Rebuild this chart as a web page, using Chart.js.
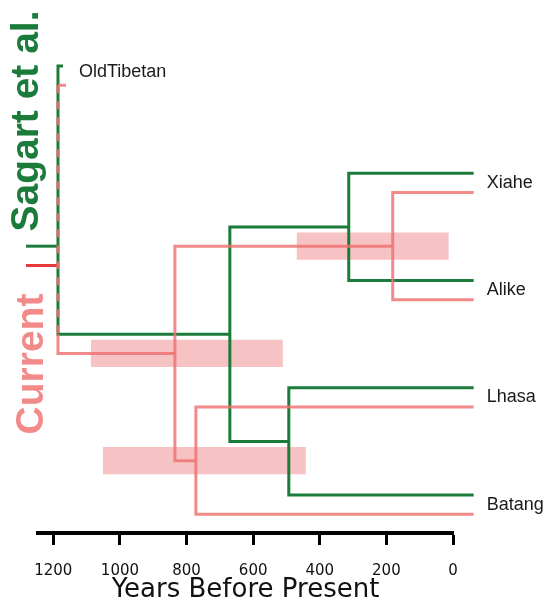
<!DOCTYPE html>
<html><head><meta charset="utf-8">
<script src="https://cdn.jsdelivr.net/npm/chart.js@4/dist/chart.umd.min.js"></script>
<style>html,body{margin:0;padding:0;background:#fff}#wrap{width:548px;height:606px;position:relative}</style>
</head><body><div id="wrap"><canvas id="c"></canvas></div>
<script>
// ---- data (years before present; rows = leaf order top to bottom) ----
const leaves = ['OldTibetan', 'Xiahe', 'Alike', 'Lhasa', 'Batang'];
const leafRows = [0, 1, 2, 3, 4];
const sagartTipYears = [1171, -62, -62, -62, -62];
const currentTipYears = [1162, -62, -62, -62, -62];
// internal nodes: [root, (Xiahe..Batang), (Xiahe,Alike), (Lhasa,Batang)]
const sagartNodeYears = [1186, 670, 313, 493];
const currentNodeYears = [1186, 835, 181, 772];
// 95% intervals of the current tree's nodes
const currentCIHigh = [null, 1087, 469, 1051];
const currentCILow = [null, 511, 13, 442];
const rootStubYear = 1282;
const rootStubRow = 1.68;
const xTickValues = [1200, 1000, 800, 600, 400, 200, 0];
const seriesNames = ['Sagart et al.', 'Current'];

// ---- styling ----
const GREEN = '#1b7b3b';
const PINK = 'rgba(240,112,112,0.82)';
const RED = '#e8383a';
const RECT = '#f7c2c4';
const PINK_OFFSET = 0.18;
const RECT_HALF = 0.127;

function treeParts(nodes, tips, off) {
  const r = i => leafRows[i] + off;
  const mXA = (r(1) + r(2)) / 2, mLB = (r(3) + r(4)) / 2, mA = (mXA + mLB) / 2;
  return {
    rows: {mXA, mLB, mA, top: r(0)},
    xa: [{x: tips[1], y: r(1)}, {x: nodes[2], y: r(1)}, {x: nodes[2], y: r(2)}, {x: tips[2], y: r(2)}],
    lb: [{x: tips[3], y: r(3)}, {x: nodes[3], y: r(3)}, {x: nodes[3], y: r(4)}, {x: tips[4], y: r(4)}],
    a: [{x: nodes[2], y: mXA}, {x: nodes[1], y: mXA}, {x: nodes[1], y: mLB}, {x: nodes[3], y: mLB}],
    stub: [{x: rootStubYear, y: rootStubRow + off}, {x: nodes[0], y: rootStubRow + off}]
  };
}
const g = treeParts(sagartNodeYears, sagartTipYears, 0);
const p = treeParts(currentNodeYears, currentTipYears, PINK_OFFSET);

function line(data, color, order, extra) {
  return Object.assign({data, borderColor: color, borderWidth: 3, showLine: true, pointRadius: 0,
    pointHoverRadius: 0, fill: false, tension: 0, clip: false, order, borderJoinStyle: 'miter',
    borderCapStyle: 'butt'}, extra || {});
}
function rect(i) {
  const yc = (i === 1 ? p.rows.mA : i === 2 ? p.rows.mXA : p.rows.mLB);
  const lo = currentCILow[i], hi = currentCIHigh[i];
  return {data: [{x: hi, y: yc - RECT_HALF}, {x: lo, y: yc - RECT_HALF}, {x: lo, y: yc + RECT_HALF},
    {x: hi, y: yc + RECT_HALF}, {x: hi, y: yc - RECT_HALF}],
    showLine: true, pointRadius: 0, borderWidth: 0, borderColor: 'rgba(0,0,0,0)', backgroundColor: RECT,
    fill: 'shape', order: 5, clip: false, tension: 0};
}

const datasets = [
  rect(1), rect(2), rect(3),
  // Sagart et al. tree
  line(g.xa, GREEN, 3), line(g.lb, GREEN, 3), line(g.a, GREEN, 3),
  line([{x: sagartTipYears[0], y: g.rows.top}, {x: sagartNodeYears[0], y: g.rows.top},
        {x: sagartNodeYears[0], y: g.rows.mA}, {x: sagartNodeYears[1], y: g.rows.mA}], GREEN, 3),
  line(g.stub, GREEN, 3),
  // Current tree
  line(p.xa, PINK, 1), line(p.lb, PINK, 1), line(p.a, PINK, 1),
  line([{x: currentTipYears[0], y: p.rows.top}, {x: currentNodeYears[0], y: p.rows.top}], PINK, 1),
  line([{x: currentNodeYears[0], y: p.rows.top}, {x: currentNodeYears[0], y: g.rows.mA}], PINK, 1, {borderDash: [8, 8]}),
  line([{x: currentNodeYears[0], y: g.rows.mA}, {x: currentNodeYears[0], y: p.rows.mA},
        {x: currentNodeYears[1], y: p.rows.mA}], PINK, 1),
  line(p.stub, RED, 1)
];

const labelPlugin = {
  id: 'labels',
  afterDatasetsDraw(chart) {
    const xs = chart.scales.x, ys = chart.scales.y, ctx = chart.ctx;
    ctx.save();
    ctx.fillStyle = '#1a1a1a';
    ctx.font = '18px "Liberation Sans", Arial, sans-serif';
    ctx.textBaseline = 'middle';
    ctx.textAlign = 'left';
    leaves.forEach((name, i) => {
      const tipX = Math.max(xs.getPixelForValue(sagartTipYears[i]), xs.getPixelForValue(currentTipYears[i]));
      const yOff = i === 0 ? 0.055 : PINK_OFFSET / 2;
      ctx.fillText(name, tipX + 13, ys.getPixelForValue(leafRows[i] + yOff));
    });
    ctx.font = 'bold 39px "Liberation Sans", Arial, sans-serif';
    ctx.textAlign = 'center';
    ctx.textBaseline = 'alphabetic';
    [[seriesNames[0], GREEN, 38, 121], [seriesNames[1], '#f38a8a', 43, 364]].forEach(([t, c, x, y]) => {
      ctx.save();
      ctx.translate(x, y);
      ctx.rotate(-Math.PI / 2);
      ctx.fillStyle = c;
      ctx.fillText(t, 0, 0);
      ctx.restore();
    });
    ctx.restore();
  }
};

new Chart(document.getElementById('c'), {
  type: 'scatter',
  data: {datasets},
  options: {
    responsive: true, maintainAspectRatio: false, animation: false, events: [],
    layout: {padding: {left: 38, right: 95, top: 0, bottom: 0}},
    plugins: {legend: {display: false}, tooltip: {enabled: false}},
    scales: {
      x: {
        type: 'linear', position: 'bottom', reverse: true, min: 0, max: 1246,
        afterFit(s) { s.height = 73; },
        afterBuildTicks(s) { s.ticks = xTickValues.map(v => ({value: v})); },
        border: {display: true, color: '#000', width: 4},
        grid: {display: true, drawOnChartArea: false, drawTicks: true, tickLength: 12, tickWidth: 3, tickColor: '#000'},
        ticks: {stepSize: 200, includeBounds: false, autoSkip: false, maxRotation: 0, padding: 17,
          color: '#111', font: {family: '"DejaVu Sans", Verdana, sans-serif', size: 15},
          callback: v => String(v)},
        title: {display: true, text: 'Years Before Present', color: '#111',
          font: {family: '"DejaVu Sans", Verdana, sans-serif', size: 26, lineHeight: 1},
          padding: {top: 0, bottom: 3}}
      },
      y: {type: 'linear', display: false, reverse: true, min: -0.6154, max: 4.3543}
    }
  },
  plugins: [labelPlugin]
});
</script>
</body></html>
